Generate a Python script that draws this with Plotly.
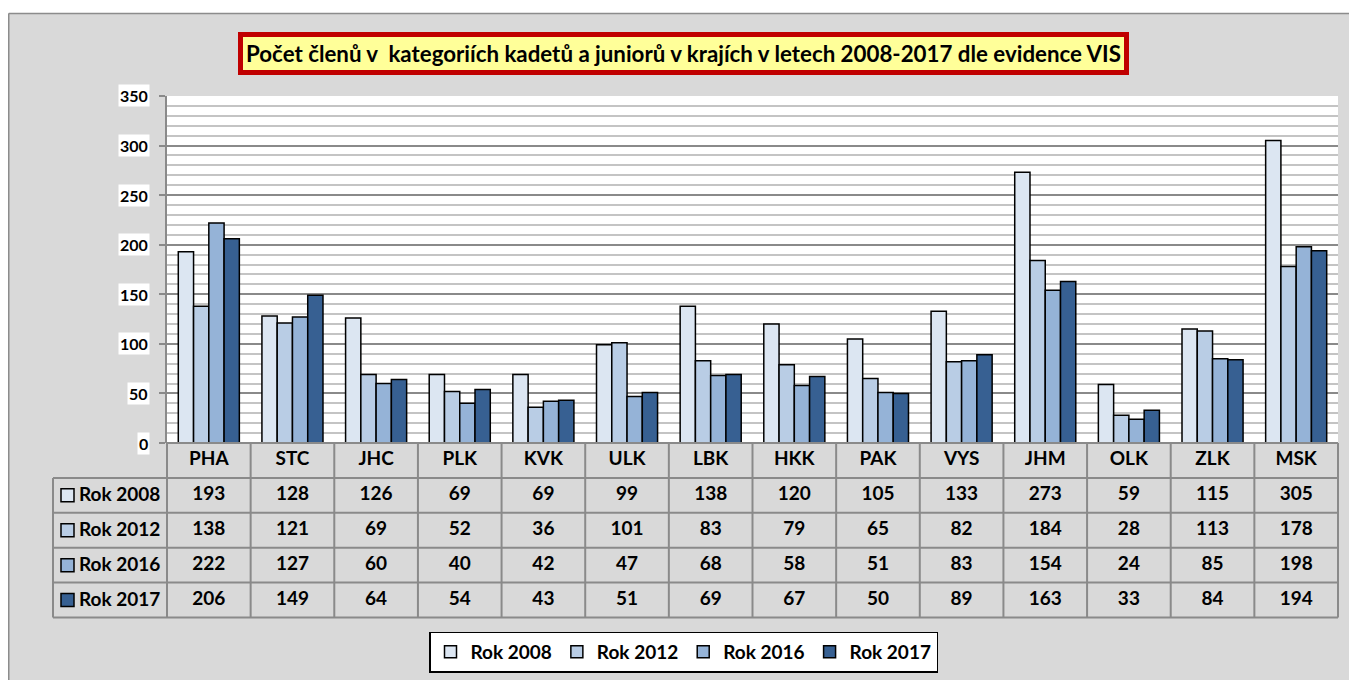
import plotly.graph_objects as go

W, H = 1357, 680

categories = ["PHA", "STC", "JHC", "PLK", "KVK", "ULK", "LBK", "HKK", "PAK", "VYS", "JHM", "OLK", "ZLK", "MSK"]
series_names = ["Rok 2008", "Rok 2012", "Rok 2016", "Rok 2017"]
rok_2008 = [193, 128, 126, 69, 69, 99, 138, 120, 105, 133, 273, 59, 115, 305]
rok_2012 = [138, 121, 69, 52, 36, 101, 83, 79, 65, 82, 184, 28, 113, 178]
rok_2016 = [222, 127, 60, 40, 42, 47, 68, 58, 51, 83, 154, 24, 85, 198]
rok_2017 = [206, 149, 64, 54, 43, 51, 69, 67, 50, 89, 163, 33, 84, 194]
series_values = [rok_2008, rok_2012, rok_2016, rok_2017]
colors = ["#DCE6F2", "#B9CDE5", "#95B3D7", "#376092"]
y_ticks = [0, 50, 100, 150, 200, 250, 300, 350]
title_text = "Počet členů v\u00a0\u00a0kategoriích kadetů a juniorů v krajích v letech 2008-2017 dle evidence VIS"

FONT = "Lato"
GRID_DARK = "#8A8A8A"
GRID_LIGHT = "#C4C4C4"
BORDER = "#8A8A8A"
BG = "#D9D9D9"

# the page places the figure 8px from the top-left corner of the window
OFF_X, OFF_Y = 8, 8

# geometry (window pixels)
PX0, PX1 = 167, 1338
PY_TOP, PY_BOT = 96, 443
ROW_H = 34.9
TAB_BOT = PY_BOT + 5 * ROW_H
LAB_X0 = 53


def px(x):
    return (x - OFF_X) / W


def py(y):
    return 1 - (y - OFF_Y) / H


fig = go.Figure()

for name, vals, col in zip(series_names, series_values, colors):
    fig.add_trace(go.Bar(
        x=categories, y=vals, name=name,
        marker=dict(color=col, line=dict(color="black", width=1.5)),
        xaxis="x", yaxis="y", hoverinfo="x+y+name",
    ))

TXT = dict(family=FONT, size=19, color="black", weight="bold")

# table texts: header row with categories, then one row per series
fig.add_trace(go.Scatter(
    x=categories, y=[0.5] * len(categories), mode="text", text=categories,
    textfont=TXT, xaxis="x", yaxis="y2", showlegend=False, hoverinfo="skip", cliponaxis=False,
))
for i, vals in enumerate(series_values):
    fig.add_trace(go.Scatter(
        x=categories, y=[i + 1.5] * len(categories), mode="text",
        text=[str(v) for v in vals],
        textfont=TXT, xaxis="x", yaxis="y2", showlegend=False, hoverinfo="skip", cliponaxis=False,
    ))

shapes = []
# white surround above the chart frame
shapes.append(dict(type="rect", xref="paper", yref="paper", x0=-0.02, x1=1.02, y0=py(13), y1=1.02,
                   fillcolor="white", line=dict(width=0), layer="below"))
shapes.append(dict(type="line", xref="paper", yref="paper", x0=px(8.75), x1=1.02, y0=py(13.5), y1=py(13.5),
                   line=dict(color="#8C8C8C", width=1.5), layer="below"))
shapes.append(dict(type="line", xref="paper", yref="paper", x0=px(8.75), x1=px(8.75), y0=py(13.5), y1=-0.02,
                   line=dict(color="#8C8C8C", width=1.5), layer="below"))
# white plot area
shapes.append(dict(type="rect", xref="paper", yref="paper", x0=px(PX0), x1=px(PX1), y0=py(PY_BOT), y1=py(PY_TOP),
                   fillcolor="white", line=dict(width=0), layer="below"))

# table grid
n = len(categories)
cw = (PX1 - PX0) / n
line_style = dict(color=BORDER, width=2)
shapes.append(dict(type="line", xref="paper", yref="paper", x0=px(PX0), x1=px(PX1),
                   y0=py(PY_BOT), y1=py(PY_BOT), line=line_style))
for r in range(1, 6):
    yy = PY_BOT + r * ROW_H
    shapes.append(dict(type="line", xref="paper", yref="paper", x0=px(LAB_X0), x1=px(PX1),
                       y0=py(yy), y1=py(yy), line=line_style))
shapes.append(dict(type="line", xref="paper", yref="paper", x0=px(LAB_X0), x1=px(LAB_X0),
                   y0=py(PY_BOT + ROW_H), y1=py(TAB_BOT), line=line_style))
for c in range(n + 1):
    xx = PX0 + c * cw
    shapes.append(dict(type="line", xref="paper", yref="paper", x0=px(xx), x1=px(xx),
                       y0=py(PY_BOT), y1=py(TAB_BOT), line=line_style))
# legend keys in table
for i, col in enumerate(colors):
    yc = PY_BOT + (i + 1.5) * ROW_H
    shapes.append(dict(type="rect", xref="paper", yref="paper", x0=px(61), x1=px(74),
                       y0=py(yc + 6.5), y1=py(yc - 6.5), fillcolor=col,
                       line=dict(color="black", width=1.5)))

annotations = []
for i, name in enumerate(series_names):
    annotations.append(dict(xref="paper", yref="y2", x=px(77), y=i + 1.5, xanchor="left", yanchor="middle",
                            yshift=1.5, text=name, showarrow=False, font=TXT))
for t in y_ticks:
    annotations.append(dict(xref="paper", yref="y", x=px(150), y=t, xanchor="right", yanchor="middle",
                            text=str(t), showarrow=False, bgcolor="white", borderpad=1,
                            font=dict(family=FONT, size=16, color="black", weight="bold")))
annotations.append(dict(xref="paper", yref="paper", x=px(683), y=py(54), xanchor="center", yanchor="middle",
                        text=title_text, showarrow=False, bgcolor="#FFFF99", bordercolor="#C00000",
                        borderwidth=5, borderpad=3,
                        font=dict(family=FONT, size=22.3, color="black", weight="bold")))

fig.update_layout(
    width=W, height=H,
    margin=dict(l=0, r=0, t=0, b=0),
    paper_bgcolor=BG, plot_bgcolor="rgba(0,0,0,0)",
    barmode="group", bargap=0.27, bargroupgap=0,
    font=dict(family=FONT, color="black"),
    xaxis=dict(domain=[px(PX0), px(PX1)], range=[-0.5, n - 0.5], showticklabels=False,
               showgrid=False, zeroline=False, showline=False, ticks="", anchor="y", fixedrange=True),
    yaxis=dict(domain=[py(PY_BOT), py(PY_TOP)], range=[0, 350], dtick=50, tick0=0,
               showticklabels=False, ticks="outside", ticklen=6, tickwidth=2, tickcolor=GRID_DARK,
               showline=True, linecolor=GRID_DARK, linewidth=2,
               showgrid=True, gridcolor=GRID_DARK, gridwidth=2, zeroline=False,
               minor=dict(dtick=10, showgrid=True, gridcolor=GRID_LIGHT, gridwidth=2),
               anchor="x", fixedrange=True),
    yaxis2=dict(domain=[py(TAB_BOT), py(PY_BOT)], range=[5, 0], showticklabels=False,
                showgrid=False, zeroline=False, showline=False, ticks="", anchor="x", fixedrange=True),
    showlegend=True,
    legend=dict(orientation="h", x=px(683.5), y=py(652), xanchor="center", yanchor="middle",
                bgcolor="white", bordercolor="black", borderwidth=1.5,
                font=TXT, itemwidth=30, traceorder="normal"),
    shapes=shapes, annotations=annotations,
)

fig.write_html("out.html")
